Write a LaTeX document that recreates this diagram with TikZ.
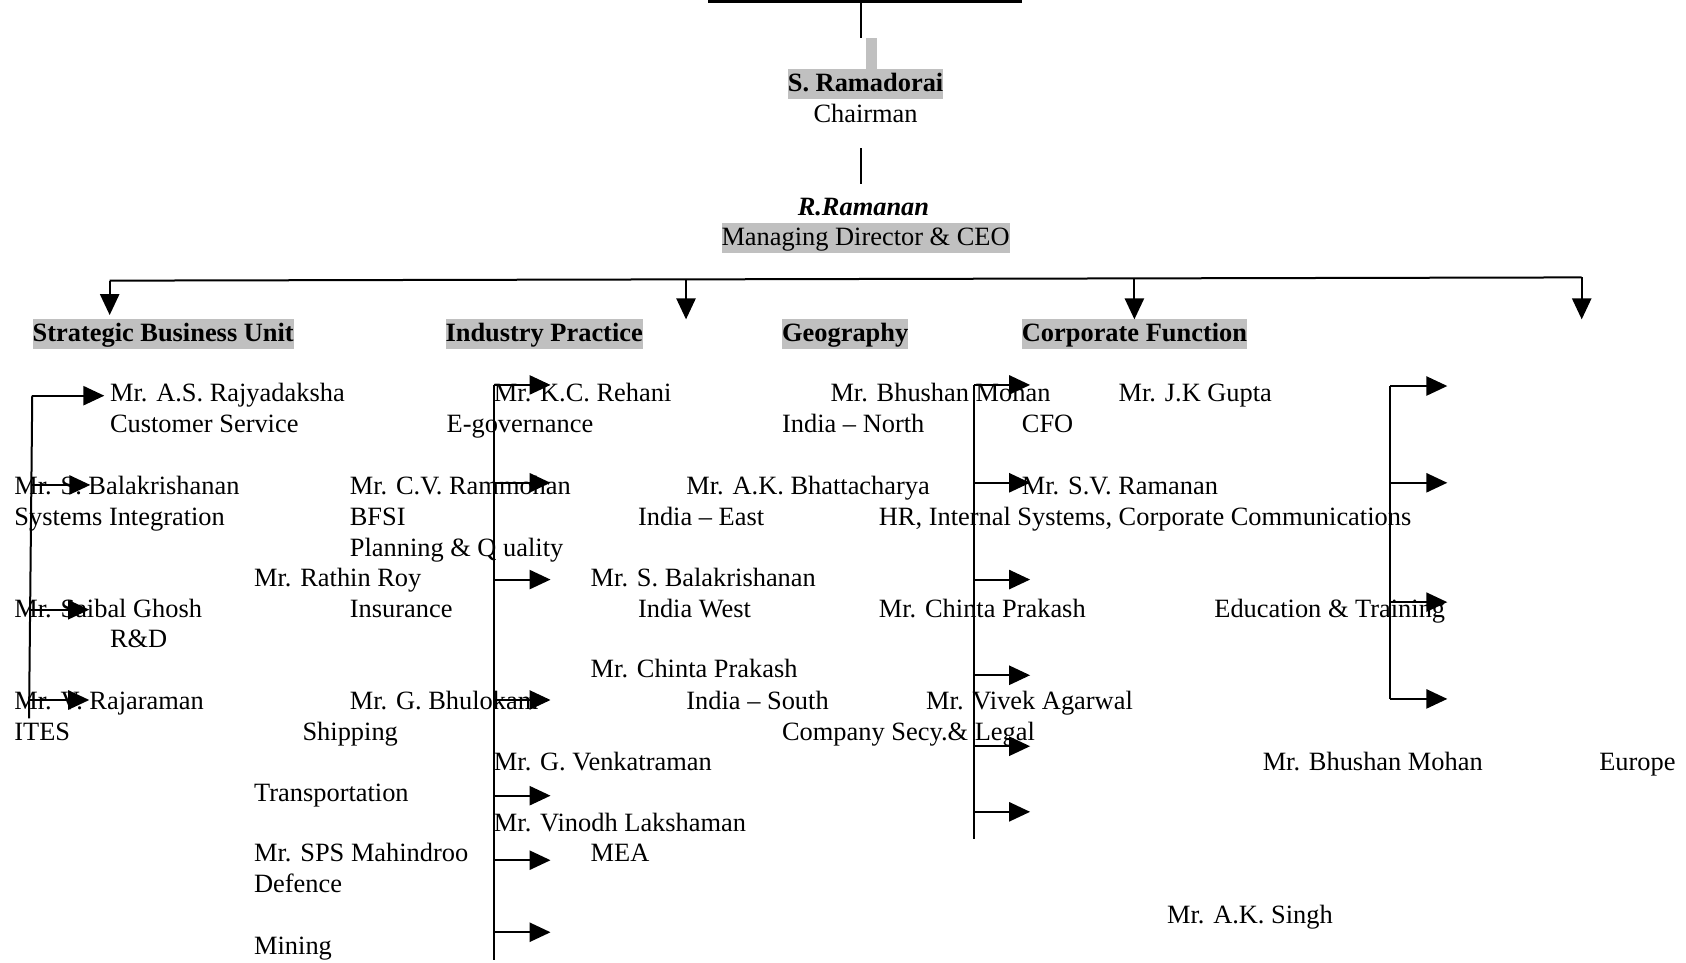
\documentclass[tikz,border=0pt]{standalone}
\usepackage{fontspec}
\setmainfont{Liberation Serif}
\usetikzlibrary{arrows.meta}
\definecolor{silver}{HTML}{C0C0C0}

\begin{document}
\begin{tikzpicture}
      [%%%%%%%%%%%%%%%%%%%%%%%%%%%%%%
      x=0.5376pt, y=-0.5376pt,
      lbl/.style={anchor=base west, inner sep=0pt, yshift=-0.8pt, font=\fontsize{13.2}{15.6}\selectfont},
      mid/.style={lbl, anchor=base},
      hilite/.style={fill=silver, text height=11.3pt, text depth=3.7pt},
      link/.style={line width=1pt},
      arr/.style={line width=1pt, -{Triangle[length=10.5pt,width=9.6pt]}},
      ]%%%%%%%%%%%%%%%%%%%%%%%%%%%%%%
      \useasboundingbox (0,0) rectangle (1568,895);

      % top of the chart
      \node[mid,hilite] (chair) at (805,84) {\textbf{S. Ramadorai}};
      \node[mid] (chairT) at (805,112) {Chairman};
      \node[mid] (ceo) at (803,199) {\textbf{\textit{R.Ramanan}}};
      \node[mid,hilite] (ceoT) at (805,227) {Managing Director \& CEO};

      % headings
      \node[lbl,hilite] (sbu) at (30,316) {\textbf{Strategic Business Unit}};
      \node[lbl,hilite] (ip) at (414,316) {\textbf{Industry Practice}};
      \node[lbl,hilite] (geo) at (727,316) {\textbf{Geography}};
      \node[lbl,hilite] (cf) at (950,316) {\textbf{Corporate Function}};

      % strategic business unit
      \node[lbl] (sbuA1) at (102,372) {Mr. A.S. Rajyadaksha};
      \node[lbl] (sbuA2) at (102,401) {Customer Service};
      \node[lbl] (sbuB1) at (13,458) {Mr. S. Balakrishanan};
      \node[lbl] (sbuB2) at (13,487) {Systems Integration};
      \node[lbl] (sbuC1) at (13,573) {Mr. Saibal Ghosh};
      \node[lbl] (sbuC2) at (102,601) {R\&D};
      \node[lbl] (sbuD1) at (13,658) {Mr. V. Rajaraman};
      \node[lbl] (sbuD2) at (13,687) {ITES};

      % industry practice
      \node[lbl] (ipA1) at (459,372) {Mr. K.C. Rehani};
      \node[lbl] (ipA2) at (415,401) {E-governance};
      \node[lbl] (ipB1) at (325,458) {Mr. C.V. Rammohan};
      \node[lbl] (ipB2) at (325,487) {BFSI};
      \node[lbl] (ipB3) at (325,516) {Planning \& Q uality};
      \node[lbl] (ipC1) at (236,544) {Mr. Rathin Roy};
      \node[lbl] (ipC2) at (325,573) {Insurance};
      \node[lbl] (ipD1) at (325,658) {Mr. G. Bhulokam};
      \node[lbl] (ipD2) at (281,687) {Shipping};
      \node[lbl] (ipE1) at (459,715) {Mr. G. Venkatraman};
      \node[lbl] (ipE2) at (236,744) {Transportation};
      \node[lbl] (ipF1) at (459,772) {Mr. Vinodh Lakshaman};
      \node[lbl] (ipF2) at (549,800) {MEA};
      \node[lbl] (ipG1) at (236,800) {Mr. SPS Mahindroo};
      \node[lbl] (ipG2) at (236,829) {Defence};
      \node[lbl] (ipH2) at (236,886) {Mining};

      % geography
      \node[lbl] (geoA1) at (772,372) {Mr. Bhushan Mohan};
      \node[lbl] (geoA2) at (727,401) {India – North};
      \node[lbl] (geoB1) at (638,458) {Mr. A.K. Bhattacharya};
      \node[lbl] (geoB2) at (593,487) {India – East};
      \node[lbl] (geoC1) at (549,544) {Mr. S. Balakrishanan};
      \node[lbl] (geoC2) at (593,573) {India West};
      \node[lbl] (geoD1) at (549,629) {Mr. Chinta Prakash};
      \node[lbl] (geoD2) at (638,658) {India – South};

      % corporate function
      \node[lbl] (cfA1) at (1040,372) {Mr. J.K Gupta};
      \node[lbl] (cfA2) at (950,401) {CFO};
      \node[lbl] (cfB1) at (950,458) {Mr. S.V. Ramanan};
      \node[lbl] (cfB2) at (817,487) {HR, Internal Systems, Corporate Communications};
      \node[lbl] (cfC1) at (817,573) {Mr. Chinta Prakash};
      \node[lbl] (cfD1) at (861,658) {Mr. Vivek Agarwal};
      \node[lbl] (cfD2) at (727,687) {Company Secy.\& Legal};
      \node[lbl] (cfE) at (1129,573) {Education \& Training};
      \node[lbl] (cfF1) at (1174,715) {Mr. Bhushan Mohan};
      \node[lbl] (cfF2) at (1487,715) {Europe};
      \node[lbl] (cfG) at (1085,857) {Mr. A.K. Singh};

      % lines on top
      \coordinate (topL) at (658,1);
      \coordinate (topR) at (950,1);
      \coordinate (topM) at (801,1);
      \coordinate (chairIn) at (801,35);
      \draw[line width=1.6pt] (topL) -- (topR);
      \draw[link] (topM) -- (chairIn);
      \fill[silver] (805,35) rectangle (816,64);
      \coordinate (midA) at (801,138);
      \coordinate (midB) at (801,171);
      \draw[link] (midA) -- (midB);

      % the bar
      \coordinate (barL) at (102,261);
      \coordinate (barR) at (1471,258);
      \draw[link] (barL) -- (barR);
      \foreach \n/\x/\y/\t in {1/102/261/293,2/638/260/297,3/1055/259/297,4/1471/258/297}{
        \coordinate (bar\n) at (\x,\y);
        \coordinate (barTip\n) at (\x,\t);
        \draw[arr] (bar\n) -- (barTip\n);
      }

      % brackets
      \coordinate (sbuTop) at (30,368);
      \coordinate (sbuBot) at (27,668);
      \draw[link] (sbuTop) -- (sbuBot);
      \foreach \n/\x/\y/\t in {1/30/368/97,2/29.2/451/84,3/28/567/83,4/27.2/651/83}{
        \coordinate (sbu\n) at (\x,\y);
        \coordinate (sbuTip\n) at (\t,\y);
        \draw[arr] (sbu\n) -- (sbuTip\n);
      }
      \coordinate (ipTop) at (459,358);
      \coordinate (ipBot) at (459,893);
      \draw[link] (ipTop) -- (ipBot);
      \foreach \n/\y in {1/358,2/449,3/539,4/651,5/740,6/800,7/867}{
        \coordinate (ip\n) at (459,\y);
        \coordinate (ipTip\n) at (512,\y);
        \draw[arr] (ip\n) -- (ipTip\n);
      }
      \coordinate (cfTop) at (906,358);
      \coordinate (cfBot) at (906,780);
      \draw[link] (cfTop) -- (cfBot);
      \foreach \n/\y in {1/358,2/449,3/539,4/628,5/694,6/755}{
        \coordinate (cf\n) at (906,\y);
        \coordinate (cfTip\n) at (958,\y);
        \draw[arr] (cf\n) -- (cfTip\n);
      }
      \coordinate (rtTop) at (1293,359);
      \coordinate (rtBot) at (1293,650);
      \draw[link] (rtTop) -- (rtBot);
      \foreach \n/\y in {1/359,2/449,3/560,4/650}{
        \coordinate (rt\n) at (1293,\y);
        \coordinate (rtTip\n) at (1346,\y);
        \draw[arr] (rt\n) -- (rtTip\n);
      }
      % \draw[link] (ceoT) -- (bar2);
    \end{tikzpicture}
\end{document}
